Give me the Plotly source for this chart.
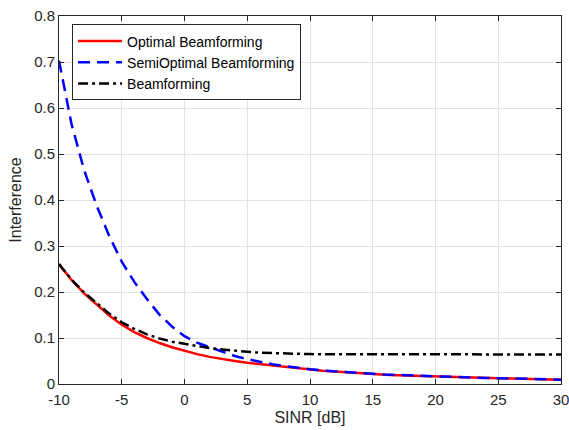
import plotly.graph_objects as go

sinr_db = list(range(-10, 31))

optimal = [0.260, 0.226, 0.197, 0.172, 0.149, 0.129, 0.113, 0.100, 0.089, 0.080,
           0.072, 0.065, 0.059, 0.054, 0.050, 0.046, 0.043, 0.040, 0.037, 0.034,
           0.031, 0.029, 0.027, 0.025, 0.023, 0.022, 0.020, 0.019, 0.018, 0.017,
           0.016, 0.0152, 0.0144, 0.0137, 0.0130, 0.0124, 0.0118, 0.0112, 0.0106, 0.0100,
           0.0094]

semi_optimal = [0.703, 0.565, 0.465, 0.388, 0.322, 0.266, 0.222, 0.185, 0.151, 0.125,
                0.104, 0.090, 0.080, 0.070, 0.061, 0.054, 0.048, 0.043, 0.039, 0.035,
                0.032, 0.0295, 0.0273, 0.0253, 0.0235, 0.0222, 0.0205, 0.0194, 0.0183, 0.0173,
                0.0163, 0.0155, 0.0146, 0.0139, 0.0132, 0.0126, 0.0119, 0.0113, 0.0107, 0.0101,
                0.0095]

beamforming = [0.261, 0.227, 0.199, 0.175, 0.153, 0.134, 0.120, 0.108, 0.099, 0.092,
               0.087, 0.082, 0.078, 0.075, 0.072, 0.070, 0.068, 0.067, 0.066, 0.0655,
               0.065, 0.0648, 0.0647, 0.0646, 0.0646, 0.0645, 0.0645, 0.0644, 0.0644, 0.0644,
               0.0643, 0.0643, 0.0643, 0.0643, 0.0643, 0.0642, 0.0642, 0.0642, 0.0642, 0.0642,
               0.0642]

x_ticks = [-10, -5, 0, 5, 10, 15, 20, 25, 30]
x_tick_text = ["-10", "-5", "0", "5", "10", "15", "20", "25", "30"]
y_ticks = [0, 0.1, 0.2, 0.3, 0.4, 0.5, 0.6, 0.7, 0.8]
y_tick_text = ["0", "0.1", "0.2", "0.3", "0.4", "0.5", "0.6", "0.7", "0.8"]

fig = go.Figure()
fig.add_trace(go.Scatter(x=sinr_db, y=optimal, mode="lines", name="Optimal Beamforming",
                         line=dict(color="#ff0000", width=2.5)))
fig.add_trace(go.Scatter(x=sinr_db, y=semi_optimal, mode="lines", name="SemiOptimal Beamforming",
                         line=dict(color="#0000ff", width=2.5, dash="12px,7px")))
fig.add_trace(go.Scatter(x=sinr_db, y=beamforming, mode="lines", name="Beamforming",
                         line=dict(color="#000000", width=2.5, dash="10px,4px,3px,4px")))

axis_color = "#262626"
grid_color = "#e3e3e3"
font_family = "Liberation Sans, Arial, sans-serif"

fig.update_layout(
    width=569, height=430,
    margin=dict(l=59, r=8, t=16, b=46),
    paper_bgcolor="white", plot_bgcolor="white",
    font=dict(family=font_family, size=15, color=axis_color),
    showlegend=True,
    legend=dict(x=0.026, y=0.977, xanchor="left", yanchor="top",
                bgcolor="white", bordercolor=axis_color, borderwidth=1,
                font=dict(size=14, color="#000000"), tracegroupgap=0,
                itemwidth=44),
    xaxis=dict(range=[-10, 30], tickvals=x_ticks, ticktext=x_tick_text, ticks="inside",
               ticklen=5, automargin=False, ticklabeloverflow="allow",
               ticklabelstandoff=2,
               tickcolor=axis_color, showline=True, linecolor=axis_color, linewidth=1,
               mirror="ticks", showgrid=True, gridcolor=grid_color, gridwidth=1,
               zeroline=False, title=dict(text="SINR [dB]", standoff=4,
                                          font=dict(size=16, color=axis_color)),
               tickfont=dict(size=15, color=axis_color)),
    yaxis=dict(range=[0, 0.8], tickvals=y_ticks, ticktext=y_tick_text, ticks="inside",
               ticklen=5, automargin=False, ticklabeloverflow="allow", tickcolor=axis_color,
               showline=True, linecolor=axis_color, linewidth=1, mirror="ticks",
               showgrid=True, gridcolor=grid_color, gridwidth=1, zeroline=False,
               title=dict(text="Interference", standoff=8,
                          font=dict(size=16, color=axis_color)),
               tickfont=dict(size=15, color=axis_color)),
)

fig.write_html("out.html")
